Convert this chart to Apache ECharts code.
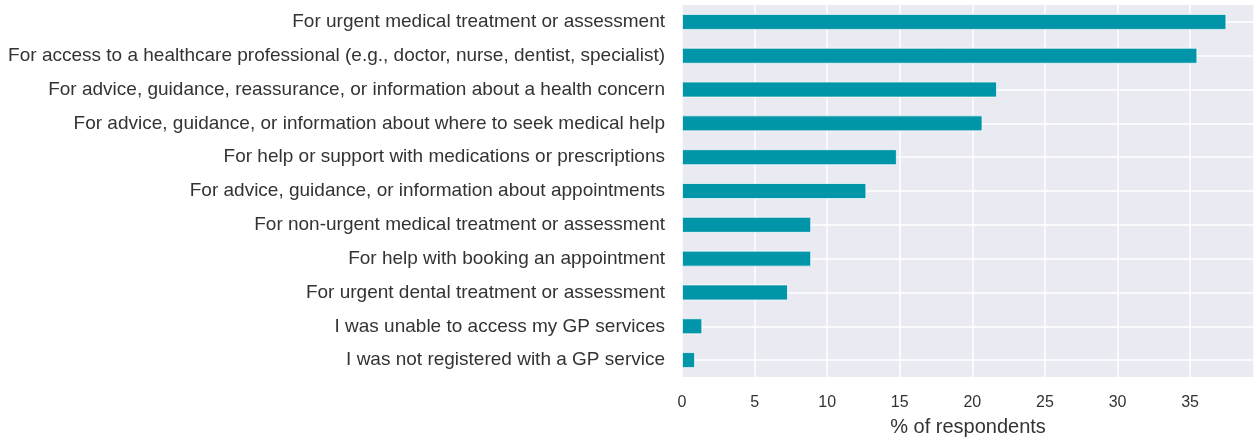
<!DOCTYPE html>
<html>
<head>
<meta charset="utf-8">
<script src="https://cdn.jsdelivr.net/npm/echarts@6/dist/echarts.min.js"></script>
<style>
  html, body { margin: 0; padding: 0; background: #fff; }
  #myChart { width: 1254px; height: 438px; }
</style>
</head>
<body>
<div id="myChart"></div>
<script>
// categories listed bottom -> top (category axis starts at the bottom)
const categories = [
  'I was not registered with a GP service',
  'I was unable to access my GP services',
  'For urgent dental treatment or assessment',
  'For help with booking an appointment',
  'For non-urgent medical treatment or assessment',
  'For advice, guidance, or information about appointments',
  'For help or support with medications or prescriptions',
  'For advice, guidance, or information about where to seek medical help',
  'For advice, guidance, reassurance, or information about a health concern',
  'For access to a healthcare professional (e.g., doctor, nurse, dentist, specialist)',
  'For urgent medical treatment or assessment'
];
const percentValues = [0.9, 1.4, 7.3, 8.9, 8.9, 12.7, 14.8, 20.7, 21.7, 35.5, 37.5];
const xTicks = [0, 5, 10, 15, 20, 25, 30, 35];

const fontFamily = '"Liberation Sans", Arial, sans-serif';
const textColor = '#333333';

let myChart = echarts.init(document.getElementById('myChart'));
let option = {
  backgroundColor: '#ffffff',
  animation: false,
  grid: {
    left: 682,
    right: 0,
    top: 5,
    bottom: 61,
    containLabel: false,
    outerBoundsMode: 'none',
    show: true,
    backgroundColor: '#EAEAF2',
    borderWidth: 0
  },
  xAxis: {
    type: 'value',
    min: 0,
    max: 39.4,
    interval: 5,
    name: '% of respondents',
    nameLocation: 'middle',
    nameGap: 40,
    nameTextStyle: { color: textColor, fontSize: 20, fontFamily: fontFamily },
    axisLine: { show: false },
    axisTick: { show: false },
    axisLabel: {
      color: textColor,
      fontSize: 16,
      fontFamily: fontFamily,
      margin: 18,
      showMaxLabel: false,
      formatter: function (v) { return xTicks.indexOf(v) >= 0 ? String(v) : ''; }
    },
    splitLine: { show: true, lineStyle: { color: '#ffffff', width: 1.5 } }
  },
  yAxis: {
    type: 'category',
    data: categories,
    boundaryGap: true,
    axisLine: { show: false },
    axisTick: { show: false },
    axisLabel: {
      color: textColor,
      fontSize: 19,
      fontFamily: fontFamily,
      margin: 17
    },
    splitLine: { show: false }
  },
  series: [
    {
      // horizontal grid lines through the category centres
      type: 'line',
      data: [],
      silent: true,
      z: 1,
      markLine: {
        silent: true,
        z: 1,
        symbol: 'none',
        label: { show: false },
        lineStyle: { color: '#ffffff', type: 'solid', width: 1.5 },
        data: categories.map(function (c) { return { yAxis: c }; })
      }
    },
    {
      type: 'bar',
      data: percentValues,
      barWidth: 16,
      z: 10,
      itemStyle: {
        color: '#0095A8',
        borderColor: 'rgba(255,255,255,0.7)',
        borderWidth: 1
      }
    }
  ]
};
myChart.setOption(option);
</script>
</body>
</html>
